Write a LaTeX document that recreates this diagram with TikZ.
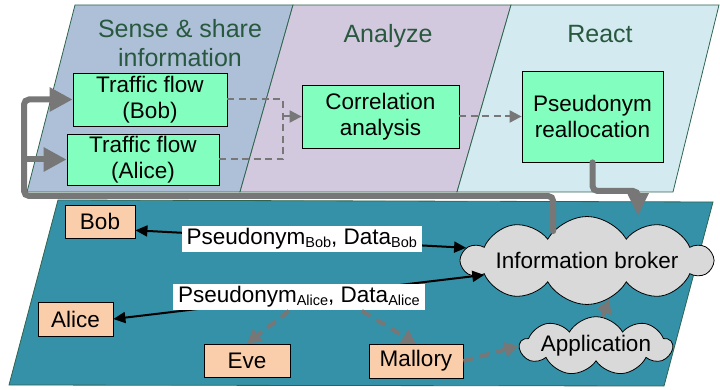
\documentclass[tikz,border=0pt]{standalone}
\usepackage{fontspec}
\setmainfont{Liberation Sans}
\usetikzlibrary{shapes.symbols,arrows.meta}

\definecolor{bandblue}{RGB}{173,192,216}
\definecolor{bandpurple}{RGB}{211,201,223}
\definecolor{bandcyan}{RGB}{211,235,240}
\definecolor{bandteal}{RGB}{53,145,168}
\definecolor{bandline}{RGB}{47,100,78}
\definecolor{titlegreen}{RGB}{40,88,62}
\definecolor{stepgreen}{RGB}{130,255,190}
\definecolor{actororange}{RGB}{250,206,170}
\definecolor{cloudgray}{RGB}{217,217,217}
\definecolor{linkgray}{RGB}{119,119,119}

% small lowered subscript text
\newcommand{\lowsub}[1]{\raisebox{-3pt}{\fontsize{14.5}{14.5}\selectfont #1}}

\begin{document}
\begin{tikzpicture}[x=1pt,y=-1pt,
  band/.style={draw=bandline, line width=0.8pt},
  phase/.style={text=titlegreen, font=\fontsize{25}{29}\selectfont, align=center},
  stepbox/.style={draw=black, line width=0.8pt, fill=stepgreen, align=center,
    font=\fontsize{22.5}{26.5}\selectfont, inner sep=0pt},
  actor/.style={draw=black, line width=0.8pt, fill=actororange,
    font=\fontsize{22.5}{26}\selectfont, inner sep=0pt},
  service/.style={cloud, cloud puffs=10, cloud puff arc=120, cloud ignores aspect,
    draw=black, line width=0.8pt, fill=cloudgray, inner sep=0pt,
    font=\fontsize{22.5}{26}\selectfont},
  flowlink/.style={draw=linkgray, line width=2pt, dash pattern=on 7pt off 4.5pt},
  flowtip/.style={-{Triangle[length=12pt,width=12pt]}},
  feedback/.style={draw=linkgray, line width=6pt, rounded corners=5pt, line cap=round},
  datalink/.style={draw=black, line width=2pt,
    {Triangle[length=12pt,width=11pt]}-{Triangle[length=12pt,width=11pt]}},
  datalabel/.style={fill=white, inner xsep=5pt, inner ysep=2.5pt,
    font=\fontsize{22.5}{26}\selectfont},
  leak/.style={draw=linkgray, line width=4pt, dash pattern=on 10pt off 7pt,
    -{Triangle[length=14pt,width=15pt]}}
]
\useasboundingbox (0,0) rectangle (720,390);

% phase bands
\path[band, fill=bandblue]   (75,5) -- (293,5) -- (240,192) -- (27,192) -- cycle;
\path[band, fill=bandpurple] (293,5) -- (511,5) -- (457,192) -- (240,192) -- cycle;
\path[band, fill=bandcyan]   (511,5) -- (719,5) -- (673,192) -- (457,192) -- cycle;
% network band
\path[band, fill=bandteal] (58,200) -- (713,202) -- (664,386) -- (9,385) -- cycle;

% phase titles
\node[phase] (tsense) at (180,43) {Sense \& share\\information};
\node[phase, anchor=base] (tanalyze) at (388,43) {Analyze};
\node[phase, anchor=base] (treact) at (600,43) {React};

% processing steps
\node[stepbox, minimum width=154pt, minimum height=53pt] (tfbob) at (150,99.5) {Traffic flow\\(Bob)};
\node[stepbox, minimum width=152pt, minimum height=51pt] (tfalice) at (143,159.5) {Traffic flow\\(Alice)};
\node[stepbox, minimum width=157pt, minimum height=63pt] (corr) at (380.5,116.5) {Correlation\\analysis};
\node[stepbox, minimum width=141pt, minimum height=91pt] (pseu) at (592.5,116.5) {Pseudonym\\reallocation};

% participants
\node[actor, minimum width=70pt, minimum height=33pt] (bob) at (100,221.5) {Bob};
\node[actor, minimum width=75pt, minimum height=34pt] (alice) at (75.5,319) {Alice};
\node[actor, minimum width=86pt, minimum height=33pt] (eve) at (247,360.5) {Eve};
\node[actor, minimum width=94pt, minimum height=34pt] (mallory) at (416,361) {Mallory};

% services
\node[service, minimum width=212pt, minimum height=88pt] (broker) at (587,260.5) {Information broker};
\node[service, minimum width=130pt, minimum height=56pt, cloud puffs=9] (app) at (596,346) {Application};

% flow between the processing steps
\coordinate (merge) at (283,116.5);
\draw[flowlink] (tfbob.east) -| (merge);
\draw[flowlink] (tfalice.east) -| (merge);
\draw[flowlink, flowtip] (merge) -- (corr.west);
\draw[flowlink, flowtip] (corr.east) -- (pseu.west);

% feedback loops
\coordinate (loopcorner) at (24,196);
\coordinate (alicebranch) at (loopcorner |- tfalice.west);
\draw[feedback, -{Triangle[length=23pt,width=23pt]}] (broker.139) |- (loopcorner) |- (tfbob.west);
\draw[feedback, -{Triangle[length=23pt,width=23pt]}] (alicebranch) -- (tfalice.west);
\coordinate (bend) at (638,191);
\draw[feedback, -{Triangle[length=23pt,width=20pt]}] (pseu.south) |- (bend) -- (bend |- broker.north);

% data exchanged with the broker
\draw[datalink] (bob.-14) -- node[datalabel, pos=0.503] (bl) {Pseudonym\lowsub{Bob}, Data\lowsub{Bob}} (broker.174);
\draw[datalink] (alice.east) -- node[datalabel, pos=0.5] (al) {Pseudonym\lowsub{Alice}, Data\lowsub{Alice}} (broker.188);

% eavesdropping and misuse
\draw[leak] ([xshift=-10pt]al.south) -- (eve.north);
\draw[leak] ([xshift=63pt]al.south) -- (mallory.north);
\draw[leak] (mallory.east) -- (app.west);
\draw[leak, dash pattern=on 8pt off 5pt] (app.78) -- (broker.-60);
\end{tikzpicture}
\end{document}
